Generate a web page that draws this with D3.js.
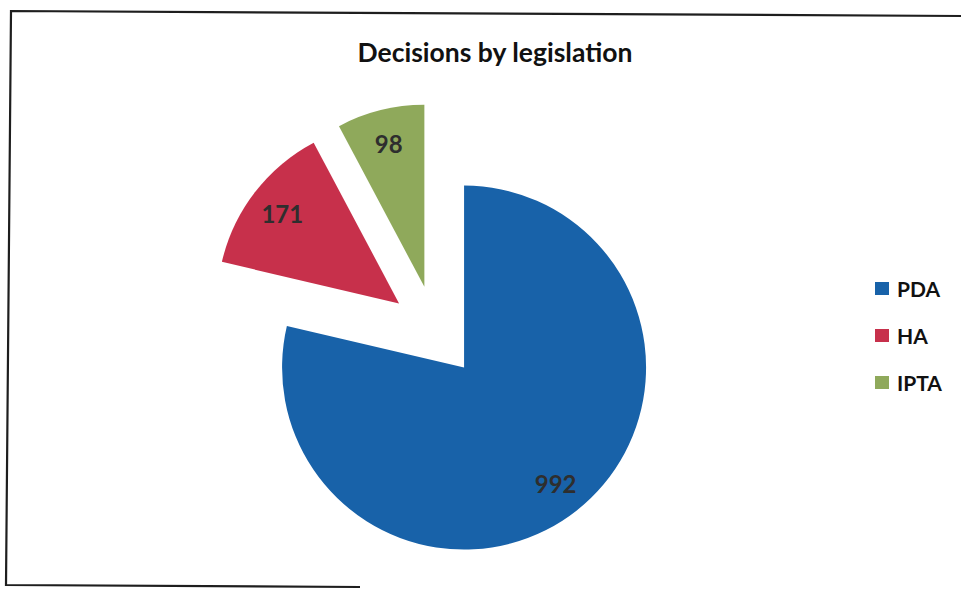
<!DOCTYPE html>
<html>
<head>
<meta charset="utf-8">
<script src="https://cdn.jsdelivr.net/npm/d3@7"></script>
<style>
  html, body { margin: 0; padding: 0; background: #fff; }
  svg { display: block; }
  text { font-family: Lato, "Open Sans", sans-serif; }
</style>
</head>
<body>
<svg id="chart" width="961" height="589"></svg>
<script>
// Decisions by legislation
const categories = ["PDA", "HA", "IPTA"];
const values = [992, 171, 98];
const colors = ["#1862a9", "#c7304b", "#8fa95b"];
const title = "Decisions by legislation";

const svg = d3.select("#chart");

// chart frame
svg.append("path")
  .attr("d", "M961,16 L11,11 L6,585 L360,587")
  .attr("fill", "none")
  .attr("stroke", "#1e1e1e")
  .attr("stroke-width", 2.2);

// title
svg.append("text")
  .attr("x", 495)
  .attr("y", 62)
  .attr("text-anchor", "middle")
  .attr("font-size", 26.5)
  .attr("font-weight", 700)
  .attr("fill", "#111")
  .text(title);

// exploded pie
const radius = 182;
const explode = 46;
const center = [435.5, 331.5];

const data = categories.map((c, i) => ({ name: c, value: values[i], color: colors[i] }));
const pie = d3.pie().sort(null).value(d => d.value);
const arc = d3.arc().innerRadius(0).outerRadius(radius);
const labelArc = d3.arc().innerRadius(radius * 0.81).outerRadius(radius * 0.81);

const slices = svg.append("g")
  .attr("transform", `translate(${center[0]},${center[1]})`)
  .selectAll("g")
  .data(pie(data))
  .join("g")
  .attr("transform", d => {
    const a = (d.startAngle + d.endAngle) / 2;
    return `translate(${Math.sin(a) * explode},${-Math.cos(a) * explode})`;
  });

slices.append("path")
  .attr("d", arc)
  .attr("fill", d => d.data.color);

slices.append("text")
  .attr("transform", d => `translate(${labelArc.centroid(d)})`)
  .attr("text-anchor", "middle")
  .attr("dy", "0.4em")
  .attr("font-size", 24)
  .attr("font-weight", 700)
  .attr("fill", "#2e2e2e")
  .text(d => d.data.value);

// legend
const legend = svg.append("g")
  .attr("transform", "translate(875,289)")
  .selectAll("g")
  .data(data)
  .join("g")
  .attr("transform", (d, i) => `translate(0,${i * 47})`);

legend.append("rect")
  .attr("x", 0)
  .attr("y", -7)
  .attr("width", 14)
  .attr("height", 13)
  .attr("fill", d => d.color);

legend.append("text")
  .attr("x", 22)
  .attr("y", 8)
  .attr("font-size", 21)
  .attr("font-weight", 700)
  .attr("fill", "#111")
  .text(d => d.name);
</script>
</body>
</html>
